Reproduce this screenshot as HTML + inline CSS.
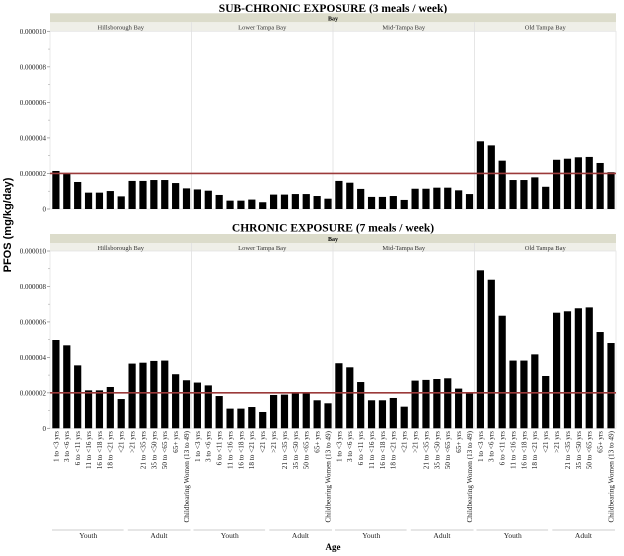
<!DOCTYPE html>
<html><head><meta charset="utf-8"><style>
body{margin:0;background:#fff;}
svg{display:block;font-family:"Liberation Serif",serif;}
</style></head><body>
<svg id="c" width="624" height="556" xmlns="http://www.w3.org/2000/svg"></svg>
<script>
const bays = ["Hillsborough Bay","Lower Tampa Bay","Mid-Tampa Bay","Old Tampa Bay"];
const ageGroups = ["1 to <3 yrs","3 to <6 yrs","6 to <11 yrs","11 to <16 yrs","16 to <18 yrs","18 to <21 yrs","<21 yrs",">21 yrs","21 to <35 yrs","35 to <50 yrs","50 to <65 yrs","65+ yrs","Childbearing Women (13 to 49)"];
const yTicks = [0,0.000002,0.000004,0.000006,0.000008,0.00001];
const yTickLabels = ["0","0.000002","0.000004","0.000006","0.000008","0.000010"];
const refValue = 0.000002;
const subHills = [2.14,1.99,1.52,0.92,0.92,1.01,0.71,1.58,1.58,1.63,1.63,1.46,1.16];
const subLower = [1.10,1.03,0.79,0.47,0.47,0.53,0.38,0.81,0.81,0.84,0.84,0.73,0.58];
const subMid = [1.58,1.48,1.13,0.68,0.68,0.73,0.51,1.14,1.14,1.20,1.20,1.05,0.84];
const subOld = [3.81,3.58,2.72,1.63,1.63,1.78,1.25,2.77,2.83,2.91,2.93,2.59,2.07];
const chrHills = [4.98,4.68,3.55,2.14,2.14,2.33,1.65,3.65,3.70,3.80,3.82,3.05,2.71];
const chrLower = [2.58,2.42,1.82,1.11,1.11,1.20,0.92,1.88,1.90,1.97,1.97,1.58,1.41];
const chrMid = [3.67,3.44,2.61,1.58,1.58,1.71,1.22,2.69,2.73,2.78,2.82,2.24,1.99];
const chrOld = [8.91,8.38,6.35,3.82,3.82,4.17,2.95,6.52,6.60,6.77,6.82,5.43,4.81];
const subSeries = [subHills,subLower,subMid,subOld];
const chrSeries = [chrHills,chrLower,chrMid,chrOld];

const svg = document.getElementById('c');
const NS = "http://www.w3.org/2000/svg";
function mk(tag, attrs, parent){const e=document.createElementNS(NS,tag);for(const k in attrs)e.setAttribute(k,attrs[k]);(parent||svg).appendChild(e);return e;}

const X0=50, X1=616, PW=(X1-X0)/4, BW=PW/13;
function xBar(p,i){return X0+p*PW+i*BW+2.3;}

function panel(title, top0, top10, bottom, series, key, titleY){
  const g=mk('g',{});
  
  
  const y=v=>bottom-(v/0.00001)*(bottom-top10);
  const t=mk('text',{x:333,y:titleY,'text-anchor':'middle','font-size':'11.5','font-weight':'bold'},g);
  t.textContent=title;
  
  
  const s1=mk('rect',{x:X0,y:top0,width:X1-X0,height:9,fill:'#dcdccb'},g);
  
  
  const bt=mk('text',{x:333,y:top0+7,'text-anchor':'middle','font-size':'6','font-weight':'bold'},g);
  bt.textContent='Bay';
  
  
  mk('rect',{x:X0,y:top0+9,width:X1-X0,height:top10-top0-9,fill:'#efefe8'},g);
  mk('rect',{x:X0,y:top10,width:X1-X0,height:bottom-top10,fill:'#fff',stroke:'#e4e4e4','stroke-width':'0.8'},g);
  bays.forEach((b,p)=>{
    const bl=mk('text',{x:X0+p*PW+PW/2,y:top0+16,'text-anchor':'middle','font-size':'6.5',fill:'#333'},g);
    bl.textContent=b;
    
    
    if(p>0) mk('line',{x1:X0+p*PW,x2:X0+p*PW,y1:top0+9,y2:bottom,stroke:'#e0e0e0','stroke-width':'0.8'},g);
  });
  yTicks.forEach((v,i)=>{
    mk('line',{x1:X0-3,x2:X0,y1:y(v),y2:y(v),stroke:'#888','stroke-width':'0.7'},g);
    const tl=mk('text',{x:X0-4,y:y(v)+2.5,'text-anchor':'end','font-size':'7',fill:'#222'},g);
    tl.textContent=yTickLabels[i];
    
    
    if(i<yTicks.length-1) mk('line',{x1:X0-2,x2:X0,y1:y(v+0.000001),y2:y(v+0.000001),stroke:'#aaa','stroke-width':'0.6'},g);
  });
  series.forEach((arr,p)=>{
    arr.forEach((v,i)=>{
      const val=v*1e-6;
      const r=mk('rect',{x:xBar(p,i),y:y(val),width:7.2,height:bottom-y(val),fill:'#000'},g);
      
      
    });
  });
  const rl=mk('line',{x1:X0,x2:X1,y1:y(refValue),y2:y(refValue),stroke:'#9b3a3a','stroke-width':'1.6'},g);
  
  
}
panel('SUB-CHRONIC EXPOSURE (3 meals / week)',13.3,31.3,209,subSeries,'subchronic',12);
panel('CHRONIC EXPOSURE (7 meals / week)',234,251,428.3,chrSeries,'chronic',231.5);

bays.forEach((b,p)=>{
  ageGroups.forEach((a,i)=>{
    const cx=xBar(p,i)+3.6;
    const t=mk('text',{x:0,y:0,'text-anchor':'end','font-size':'7.2',fill:'#222',transform:`translate(${cx+2.4},431) rotate(-90)`});
    t.textContent=a;
    
    
  });
  const x0=X0+p*PW;
  mk('line',{x1:x0+2,x2:x0+PW*0.52,y1:530,y2:530,stroke:'#bbb','stroke-width':'0.8'});
  mk('line',{x1:x0+PW*0.55,x2:x0+PW-1,y1:530,y2:530,stroke:'#bbb','stroke-width':'0.8'});
  const yt=mk('text',{x:x0+PW*0.27,y:538,'text-anchor':'middle','font-size':'7.5',fill:'#222'});
  yt.textContent='Youth';
  
  
  const at=mk('text',{x:x0+PW*0.77,y:538,'text-anchor':'middle','font-size':'7.5',fill:'#222'});
  at.textContent='Adult';
  
  
});
const ax=mk('text',{x:333,y:550,'text-anchor':'middle','font-size':'9','font-weight':'bold'});
ax.textContent='Age';


const yt=mk('text',{x:0,y:0,'text-anchor':'middle','font-size':'11','font-weight':'bold','font-family':'"Liberation Sans",sans-serif',transform:'translate(11,225) rotate(-90)'});
yt.textContent='PFOS (mg/kg/day)';


</script>
</body></html>
